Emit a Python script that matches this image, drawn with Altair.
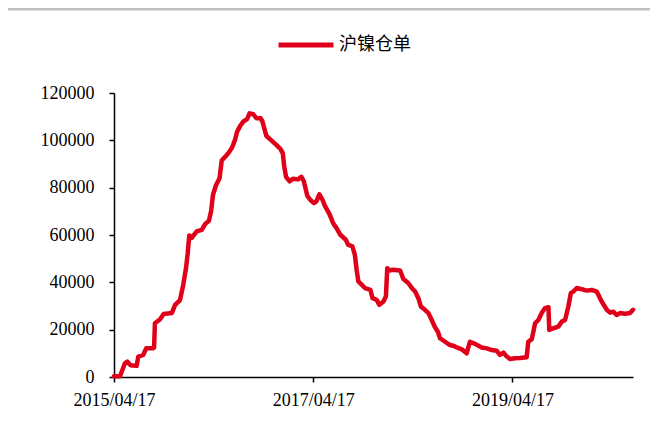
import altair as alt
import pandas as pd

series_name = "沪镍仓单"

dates = [
    "2015/04/17", "2015/05/09", "2015/05/27", "2015/06/05", "2015/06/16", "2015/07/09",
    "2015/07/15", "2015/08/02", "2015/08/13", "2015/09/05", "2015/09/11", "2015/09/14",
    "2015/10/03", "2015/10/16", "2015/11/15", "2015/11/27", "2015/12/15", "2015/12/27",
    "2016/01/06", "2016/01/12", "2016/01/18", "2016/01/27", "2016/02/14", "2016/03/04",
    "2016/03/16", "2016/03/30", "2016/04/07", "2016/04/14", "2016/04/25", "2016/05/08",
    "2016/05/16", "2016/06/01", "2016/06/12", "2016/06/23", "2016/07/04", "2016/07/11",
    "2016/07/22", "2016/08/04", "2016/08/17", "2016/08/26", "2016/09/09", "2016/09/21",
    "2016/10/06", "2016/10/12", "2016/10/27", "2016/11/14", "2016/12/03", "2016/12/17",
    "2016/12/26", "2016/12/31", "2017/01/07", "2017/01/20", "2017/02/01", "2017/02/20",
    "2017/03/04", "2017/03/13", "2017/03/26", "2017/04/06", "2017/04/19", "2017/04/28",
    "2017/05/09", "2017/05/20", "2017/05/29", "2017/06/16", "2017/06/28", "2017/07/11",
    "2017/07/25", "2017/08/14", "2017/08/22", "2017/09/07", "2017/09/16", "2017/09/23",
    "2017/09/29", "2017/10/11", "2017/10/23", "2017/11/12", "2017/11/20", "2017/12/05",
    "2017/12/15", "2017/12/30", "2018/01/08", "2018/01/13", "2018/01/21", "2018/02/02",
    "2018/03/01", "2018/03/13", "2018/03/31", "2018/04/13", "2018/04/25", "2018/05/07",
    "2018/05/16", "2018/05/31", "2018/06/13", "2018/06/25", "2018/07/07", "2018/07/18",
    "2018/07/25", "2018/08/13", "2018/08/31", "2018/09/15", "2018/09/25", "2018/10/13",
    "2018/10/31", "2018/11/12", "2018/12/01", "2018/12/25", "2019/01/13", "2019/01/31",
    "2019/02/18", "2019/03/02", "2019/03/15", "2019/03/24", "2019/04/08", "2019/04/26",
    "2019/05/15", "2019/06/08", "2019/06/14", "2019/06/27", "2019/07/09", "2019/07/21",
    "2019/08/02", "2019/08/14", "2019/08/27", "2019/08/30", "2019/09/14", "2019/10/02",
    "2019/10/15", "2019/10/27", "2019/11/08", "2019/11/17", "2019/11/26", "2019/12/09",
    "2019/12/27", "2020/01/14", "2020/02/02", "2020/02/20", "2020/03/09", "2020/03/28",
    "2020/04/09", "2020/04/21", "2020/05/03", "2020/05/15", "2020/06/03", "2020/06/21",
    "2020/07/02",
]

values = [
    300, 300, 5800, 6500, 5000, 4700,
    8600, 9300, 12100, 12100, 12400, 22700,
    24400, 26600, 27000, 30500, 32500, 39000,
    46000, 52000, 59800, 58800, 61500, 62200,
    64600, 66000, 70000, 77000, 81000, 84000,
    91500, 93500, 95000, 97000, 100300, 103500,
    106000, 108000, 109000, 111400, 111000, 109300,
    109300, 108000, 101800, 100000, 98000, 96400,
    94500, 89000, 84500, 82700, 83800, 83500,
    84600, 82700, 76500, 74800, 73500, 74200,
    77200, 75000, 72400, 68600, 65100, 62900,
    60100, 58000, 55900, 55200, 51700, 45000,
    40400, 39000, 37600, 36800, 33300, 32600,
    30500, 31900, 34000, 46000, 45000, 45300,
    45000, 41400, 39700, 37600, 36100, 33300,
    29800, 28400, 27000, 24100, 21000, 19000,
    16400, 14900, 13500, 13100, 12500, 11700,
    10000, 14900, 14000, 12500, 12100, 11400,
    11100, 9300, 10300, 9000, 7600, 7900,
    8000, 8300, 14900, 16000, 22700, 24100,
    27000, 29100, 29500, 19900, 20600, 21300,
    23400, 24100, 29800, 35400, 36100, 37600,
    37100, 36500, 36800, 36100, 31900, 28400,
    27200, 27600, 26200, 27000, 26700, 27000,
    28400,
]

y_ticks = [0, 20000, 40000, 60000, 80000, 100000, 120000]

df = pd.DataFrame({"date": dates, "value": values, "series": series_name})

num_font = "Liberation Serif"
red = "#E00019"

x_ticks = [
    alt.DateTime(year=2015, month=4, date=17),
    alt.DateTime(year=2017, month=4, date=17),
    alt.DateTime(year=2019, month=4, date=17),
]

line = alt.Chart(df).mark_line(strokeWidth=4.5, strokeJoin="round", strokeCap="round").encode(
    x=alt.X(
        "date:T",
        scale=alt.Scale(domain=[alt.DateTime(year=2015, month=4, date=17),
                                alt.DateTime(year=2020, month=7, date=2)]),
        axis=alt.Axis(
            values=x_ticks, format="%Y/%m/%d", title=None, grid=False,
            labelFont=num_font, labelFontSize=18, labelColor="black",
            labelAngle=0, labelFlush=False, labelOverlap=False,
            tickSize=5, tickColor="black", tickWidth=1.5,
            domainColor="black", domainWidth=1.5, labelPadding=9,
        ),
    ),
    y=alt.Y(
        "value:Q",
        scale=alt.Scale(domain=[0, 120000], nice=False),
        axis=alt.Axis(
            values=y_ticks, format="d", title=None, grid=False,
            labelFont=num_font, labelFontSize=18, labelColor="black",
            labelFlush=False, labelOverlap=False,
            tickSize=5, tickColor="black", tickWidth=1.5,
            domainColor="black", domainWidth=1.5, labelPadding=15,
        ),
    ),
    color=alt.Color(
        "series:N",
        scale=alt.Scale(range=[red]),
        legend=alt.Legend(
            title=None, orient="none", legendX=162, legendY=-78,
            symbolType="stroke", symbolSize=3025, symbolStrokeWidth=5,
            labelFont="Noto Sans CJK SC", labelFontSize=18, labelColor="black",
            labelOffset=3,
        ),
    ),
)

band = alt.Chart(pd.DataFrame({"a": [0]})).mark_rule(color="#C0C0C0", strokeWidth=4).encode(
    x=alt.value(-106), x2=alt.value(536), y=alt.value(-84.5)
)

chart = alt.layer(band, line).properties(
    width=519, height=284,
    autosize=alt.AutoSizeParams(type="none"),
    padding={"left": 106, "top": 85, "right": 17, "bottom": 38},
).configure_view(strokeWidth=0)

chart.save("out.html", embed_options={"renderer": "svg", "actions": False})
